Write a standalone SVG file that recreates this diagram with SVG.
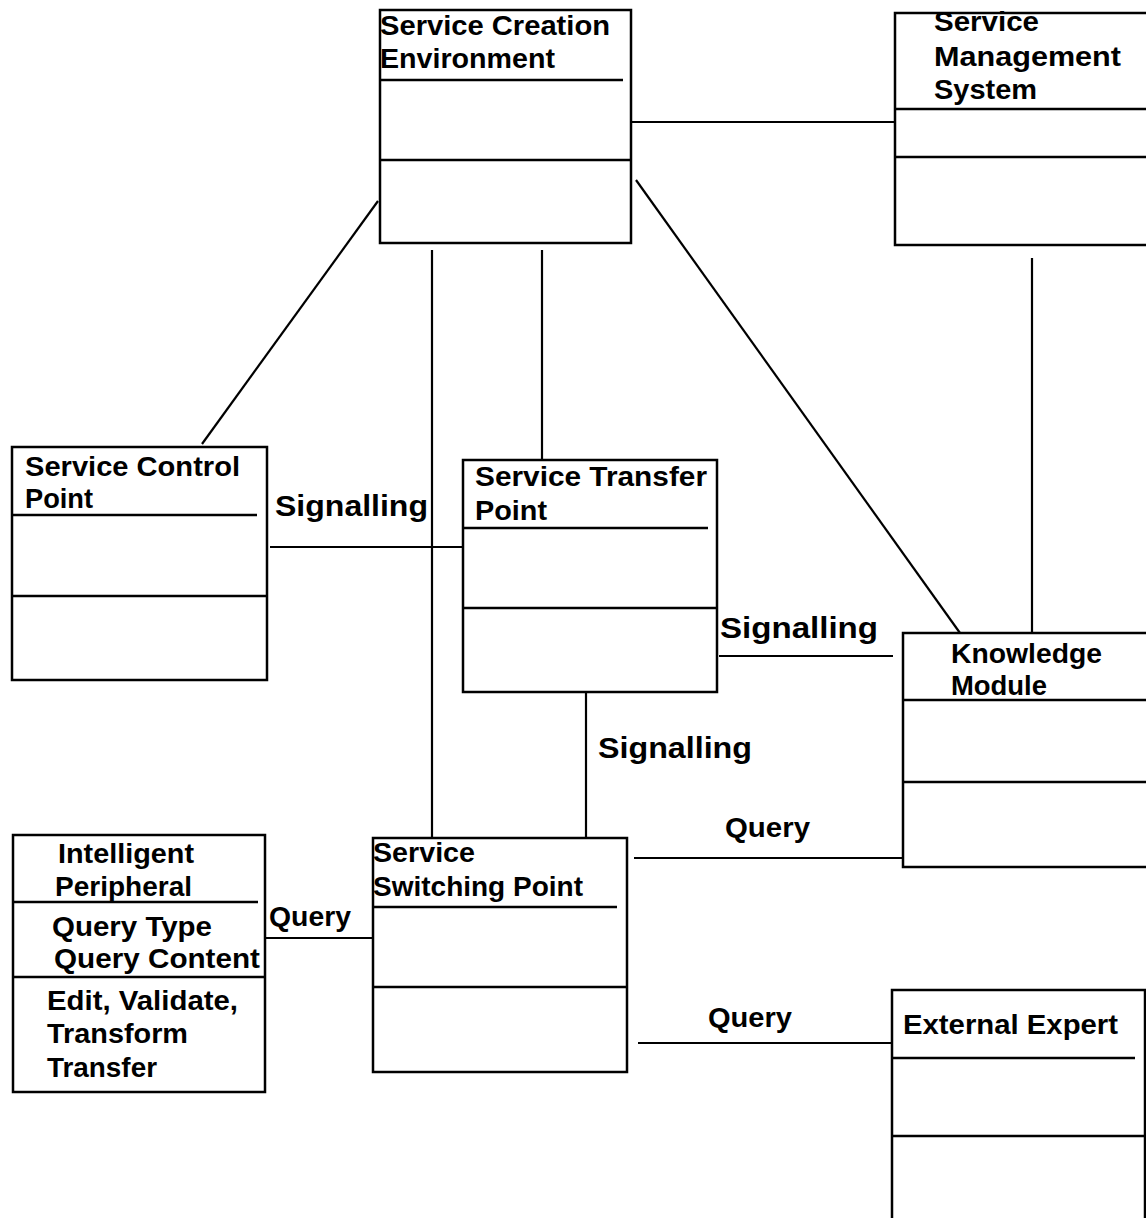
<svg xmlns="http://www.w3.org/2000/svg" width="1146" height="1218" viewBox="0 0 1146 1218">
<style>
.box{fill:#fff;stroke:#000;stroke-width:2.5}
.div{stroke:#000;stroke-width:2.5;fill:none}
.con{stroke:#000;stroke-width:2.2;fill:none}
text{font-family:"Liberation Sans",Arial,Helvetica,sans-serif;font-weight:bold;font-size:28px;fill:#000}
.lbl{font-size:29px;font-weight:bold}
</style>
<rect width="1146" height="1218" fill="#fff"/>
<g id="connectors">
<line class="con" x1="632" y1="122" x2="895" y2="122"/>
<line class="con" x1="378" y1="201" x2="202" y2="444"/>
<line class="con" x1="636" y1="180" x2="960" y2="633"/>
<line class="con" x1="1032" y1="258" x2="1032" y2="633"/>
<line class="con" x1="432" y1="250" x2="432" y2="838"/>
<line class="con" x1="542" y1="250" x2="542" y2="460"/>
<line class="con" x1="270" y1="547" x2="463" y2="547"/>
<line class="con" x1="719" y1="656" x2="893" y2="656"/>
<line class="con" x1="586" y1="692" x2="586" y2="838"/>
<line class="con" x1="634" y1="858" x2="903" y2="858"/>
<line class="con" x1="265" y1="938" x2="373" y2="938"/>
<line class="con" x1="638" y1="1043" x2="892" y2="1043"/>
<text class="lbl" x="275" y="516" textLength="153" lengthAdjust="spacingAndGlyphs">Signalling</text>
<text class="lbl" x="720" y="638" textLength="158" lengthAdjust="spacingAndGlyphs">Signalling</text>
<text class="lbl" x="598" y="758" textLength="154" lengthAdjust="spacingAndGlyphs">Signalling</text>
<text x="725" y="837" textLength="85" lengthAdjust="spacingAndGlyphs">Query</text>
<text x="269" y="926" textLength="82" lengthAdjust="spacingAndGlyphs">Query</text>
<text x="708" y="1027" textLength="84" lengthAdjust="spacingAndGlyphs">Query</text>
</g>
<g id="sce">
<rect class="box" x="380" y="10" width="251" height="233"/>
<line class="div" x1="380" y1="80" x2="623" y2="80"/>
<line class="div" x1="380" y1="160" x2="631" y2="160"/>
<text x="380" y="35" textLength="230" lengthAdjust="spacingAndGlyphs">Service Creation</text>
<text x="380" y="68" textLength="175" lengthAdjust="spacingAndGlyphs">Environment</text>
</g>
<g id="sms">
<rect class="box" x="895" y="13" width="260" height="232"/>
<line class="div" x1="895" y1="109" x2="1146" y2="109"/>
<line class="div" x1="895" y1="157" x2="1146" y2="157"/>
<text x="934" y="31" textLength="105" lengthAdjust="spacingAndGlyphs">Service</text>
<text x="934" y="66" textLength="187" lengthAdjust="spacingAndGlyphs">Management</text>
<text x="934" y="99" textLength="103" lengthAdjust="spacingAndGlyphs">System</text>
</g>
<g id="scp">
<rect class="box" x="12" y="447" width="255" height="233"/>
<line class="div" x1="12" y1="515" x2="257" y2="515"/>
<line class="div" x1="12" y1="596" x2="267" y2="596"/>
<text x="25" y="476" textLength="215" lengthAdjust="spacingAndGlyphs">Service Control</text>
<text x="25" y="508" textLength="68" lengthAdjust="spacingAndGlyphs">Point</text>
</g>
<g id="stp">
<rect class="box" x="463" y="460" width="254" height="232"/>
<line class="div" x1="463" y1="528" x2="708" y2="528"/>
<line class="div" x1="463" y1="608" x2="717" y2="608"/>
<text x="475" y="486" textLength="232" lengthAdjust="spacingAndGlyphs">Service Transfer</text>
<text x="475" y="520" textLength="72" lengthAdjust="spacingAndGlyphs">Point</text>
</g>
<g id="km">
<rect class="box" x="903" y="633" width="260" height="234"/>
<line class="div" x1="903" y1="700" x2="1146" y2="700"/>
<line class="div" x1="903" y1="782" x2="1146" y2="782"/>
<text x="951" y="663" textLength="151" lengthAdjust="spacingAndGlyphs">Knowledge</text>
<text x="951" y="695" textLength="96" lengthAdjust="spacingAndGlyphs">Module</text>
</g>
<g id="ip">
<rect class="box" x="13" y="835" width="252" height="257"/>
<line class="div" x1="13" y1="902" x2="258" y2="902"/>
<line class="div" x1="13" y1="977" x2="265" y2="977"/>
<text x="58" y="863" textLength="136" lengthAdjust="spacingAndGlyphs">Intelligent</text>
<text x="55" y="896" textLength="137" lengthAdjust="spacingAndGlyphs">Peripheral</text>
<text x="52" y="936" textLength="160" lengthAdjust="spacingAndGlyphs">Query Type</text>
<text x="54" y="968" textLength="206" lengthAdjust="spacingAndGlyphs">Query Content</text>
<text x="47" y="1010" textLength="191" lengthAdjust="spacingAndGlyphs">Edit, Validate,</text>
<text x="47" y="1043" textLength="141" lengthAdjust="spacingAndGlyphs">Transform</text>
<text x="47" y="1077" textLength="110" lengthAdjust="spacingAndGlyphs">Transfer</text>
</g>
<g id="ssp">
<rect class="box" x="373" y="838" width="254" height="234"/>
<line class="div" x1="373" y1="907" x2="617" y2="907"/>
<line class="div" x1="373" y1="987" x2="627" y2="987"/>
<text x="373" y="862" textLength="102" lengthAdjust="spacingAndGlyphs">Service</text>
<text x="373" y="896" textLength="210" lengthAdjust="spacingAndGlyphs">Switching Point</text>
</g>
<g id="ee">
<rect class="box" x="892" y="990" width="253" height="240"/>
<line class="div" x1="892" y1="1058" x2="1135" y2="1058"/>
<line class="div" x1="892" y1="1136" x2="1145" y2="1136"/>
<text x="903" y="1034" textLength="215" lengthAdjust="spacingAndGlyphs">External Expert</text>
</g>
</svg>
